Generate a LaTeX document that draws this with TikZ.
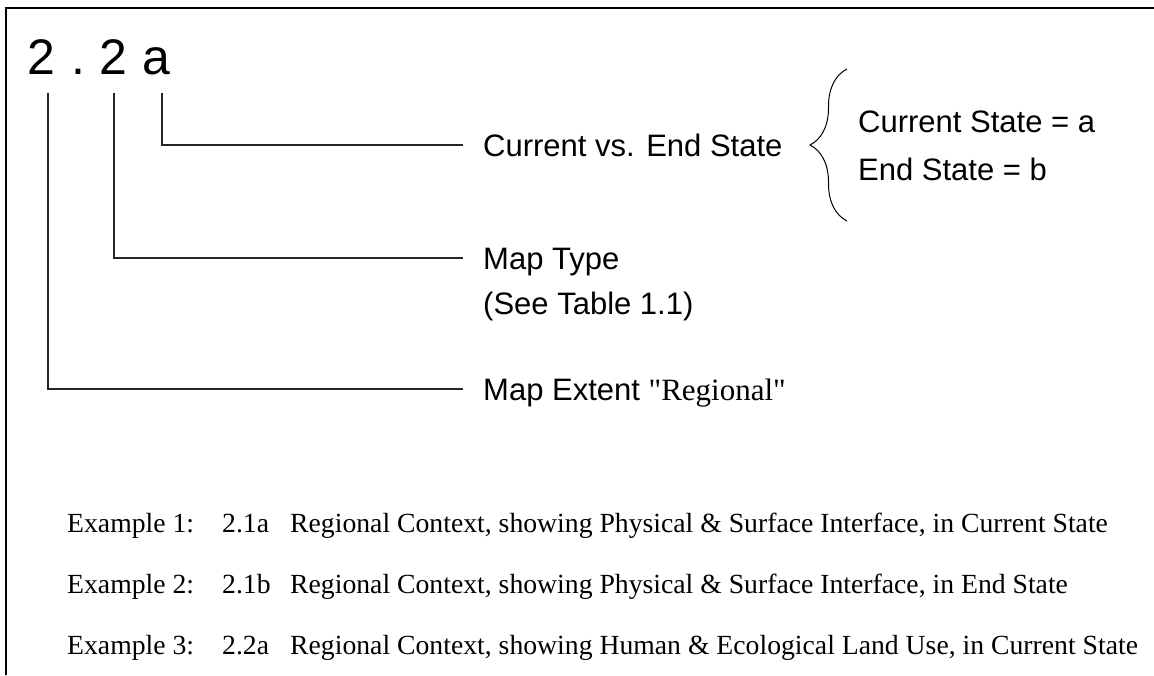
\documentclass[tikz,border=0pt]{standalone}
\usepackage{fontspec}
\setmainfont{Liberation Serif}[Ligatures=TeXOff]
\setsansfont{Liberation Sans}
\usetikzlibrary{positioning, decorations.pathreplacing}

\begin{document}
\begin{tikzpicture}[x=1pt, y=-1pt, >=latex]
    \tikzstyle{codechar} = [inner sep=0pt, anchor=base west, font=\sffamily\fontsize{50}{60}\selectfont]
    \tikzstyle{fieldtext} = [inner sep=0pt, anchor=west, text height=22.2pt, text depth=0pt, font=\sffamily\fontsize{31}{37}\selectfont]
    \tikzstyle{exline} = [inner sep=0pt, anchor=base west, font=\rmfamily\fontsize{27.7}{33}\selectfont]
    \tikzstyle{link} = [draw, line width=1.2pt, black!85]
    \tikzstyle{frameline} = [draw, line width=2pt, black]
    \tikzstyle{bracestroke} = [draw, line width=1pt, decorate, decoration={brace, amplitude=37pt, aspect=0.5}]

    \useasboundingbox (0,0) rectangle (1154,675);
    \path [frameline] (6,675) -- (6,8) -- (1154,8);

    % map number
    \node [codechar] (dA) at (27,74) {2};
    \node [codechar] (dot) at (71,74) {.};
    \node [codechar] (dB) at (99,74) {2};
    \node [codechar] (ltr) at (142,74) {a};

    % fields of the number
    \node [fieldtext] (state) at (483,145) {Current vs. End State};
    \node [fieldtext] (mtype) at (483,258) {Map Type};
    \node [fieldtext, below=23pt of mtype.south west, anchor=north west] (mtable) {(See Table 1.1)};
    \node [fieldtext] (extent) at (483,389) {Map Extent \rmfamily"Regional"};

    % state values
    \node [fieldtext] (cur) at (858,121) {Current State = a};
    \node [fieldtext, below=25.8pt of cur.south west, anchor=north west] (fin) {End State = b};
    \coordinate (bt) at (847,69);
    \coordinate (bb) at (847,221);
    \path [bracestroke] (bb) -- (bt);

    \path [link] ([xshift=20pt, yshift=-19pt]ltr.base west) |- ([xshift=-20pt]state.west);
    \path [link] ([xshift=15pt, yshift=-19pt]dB.base west) |- ([xshift=-20pt]mtype.west);
    \path [link] ([xshift=21pt, yshift=-19pt]dA.base west) |- ([xshift=-20pt]extent.west);

    % examples
    \node [exline] (ex1) at (67,532) {\makebox[155pt][l]{Example 1:}\makebox[68pt][l]{2.1a}Regional Context, showing Physical \& Surface Interface, in Current State};
    \node [exline, below=61pt of ex1.base west, anchor=base west] (ex2) {\makebox[155pt][l]{Example 2:}\makebox[68pt][l]{2.1b}Regional Context, showing Physical \& Surface Interface, in End State};
    \node [exline, below=61pt of ex2.base west, anchor=base west] (ex3) {\makebox[155pt][l]{Example 3:}\makebox[68pt][l]{2.2a}Regional Context, showing Human \& Ecological Land Use, in Current State};
\end{tikzpicture}
\end{document}
